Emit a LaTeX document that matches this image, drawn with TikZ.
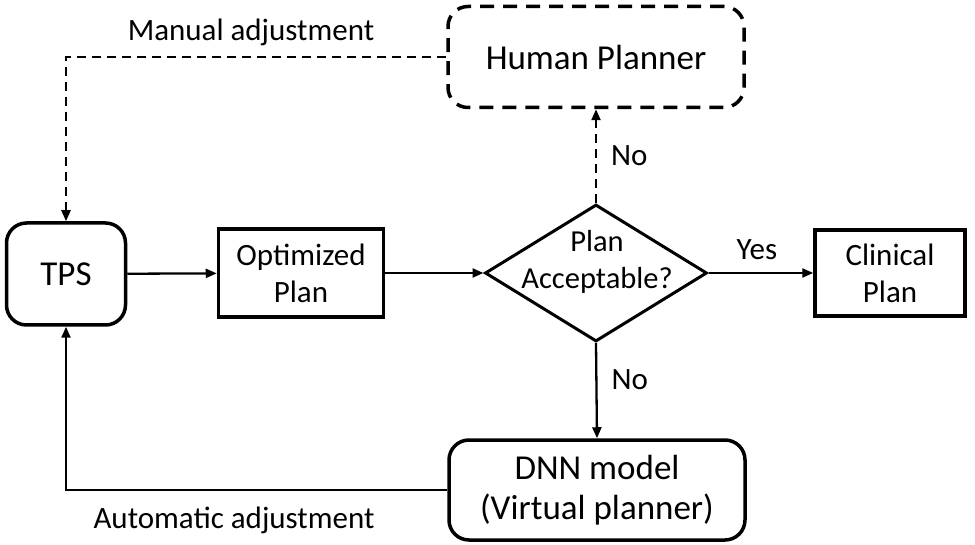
\documentclass[tikz,border=0pt]{standalone}
\usepackage{fontspec}
\setmainfont{Carlito}
\usetikzlibrary{arrows.meta,positioning,shapes.geometric,calc}
\tikzset{
bigtext/.style={font=\fontsize{35}{40}\selectfont},
midtext/.style={font=\fontsize{31}{37}\selectfont},
labeltext/.style={font=\fontsize{31}{36}\selectfont,inner sep=0pt},
box/.style={draw,line width=3.5pt,align=center,inner sep=0pt},
roundbox/.style={box,rounded corners=20pt},
dashbox/.style={roundbox,dash pattern=on 14pt off 9pt},
decision/.style={draw,diamond,line width=3pt,inner sep=0pt,aspect=1.63},
arr/.style={-{Triangle[length=11pt,width=9pt]},line width=2.3pt},
dasharr/.style={arr,dash pattern=on 9pt off 6pt},
}

\begin{document}
\begin{tikzpicture}[x=1pt,y=-1pt]
        \useasboundingbox (0,0) rectangle (975,545);

        % boxes
        \node[roundbox,bigtext,minimum width=119pt,minimum height=102pt] (tps) at (66,274) {TPS};
        \node[box,midtext,minimum width=165pt,minimum height=88pt] (opt) at (301,273) {Optimized\\Plan};
        \node[decision,minimum width=222pt,minimum height=137pt] (check) at (596,273) {};
        \node[font=\fontsize{30.5}{37}\selectfont,align=center,inner sep=0pt] (checktext) at (597,262) {Plan\\Acceptable?};
        \node[box,midtext,minimum width=150pt,minimum height=86pt] (clin) at (890,273) {Clinical\\Plan};
        \node[dashbox,bigtext,minimum width=296pt,minimum height=101pt] (human) at (596,57) {Human Planner};
        \node[roundbox,bigtext,minimum width=296pt,minimum height=100pt] (dnn) at (597,490) {DNN model\\(Virtual planner)};

        % flow
        \draw[arr] (tps) -- (opt);
        \draw[arr] (opt) -- (check.west);
        \draw[arr] (check.east) -- (clin) node[labeltext,midway,above=12pt,xshift=-4pt] (yes) {Yes};
        \draw[dasharr] (check.north) -- (human.south) node[labeltext,pos=0.5,right=14pt] (no1) {No};
        \draw[arr] (check.south) -- (dnn.north) node[labeltext,pos=0.39,right=14pt] (no2) {No};

        % feedback loops
        \draw[dasharr] (human.west) -| (tps.north);
        \draw[arr] (dnn.west) -| (tps.south);
        \node[labeltext] (manual) at (251,32) {Manual adjustment};
        \node[labeltext] (auto) at (234,520) {Automatic adjustment};
    \end{tikzpicture}
\end{document}
